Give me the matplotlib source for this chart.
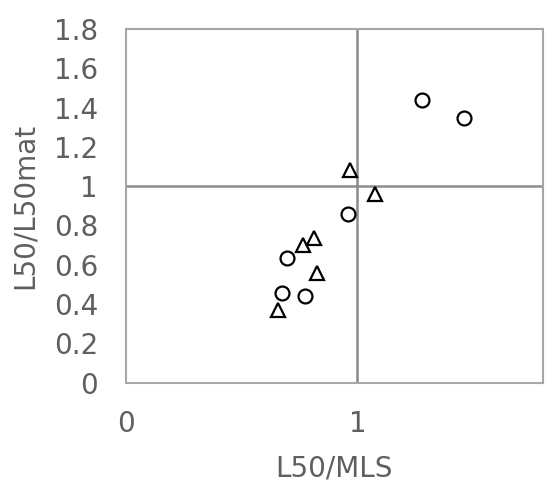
import matplotlib
matplotlib.use("Agg")
import matplotlib.pyplot as plt

# circles (series 1)
circle_x = [1.278, 1.459, 0.958, 0.695, 0.675, 0.773]
circle_y = [1.439, 1.349, 0.858, 0.636, 0.458, 0.443]

# triangles (series 2)
tri_x = [0.967, 1.078, 0.813, 0.764, 0.826, 0.658]
tri_y = [1.084, 0.960, 0.736, 0.699, 0.560, 0.370]

x_ticks = [0, 1]
y_ticks = [0, 0.2, 0.4, 0.6, 0.8, 1, 1.2, 1.4, 1.6, 1.8]
y_labels = ["0", "0.2", "0.4", "0.6", "0.8", "1", "1.2", "1.4", "1.6", "1.8"]

plt.rcParams['font.family'] = ['DejaVu Sans']
txt = '#5f5f5f'

fig = plt.figure(figsize=(5.48, 4.83), dpi=100)
ax = fig.add_axes([0.2294, 0.2077, 0.7609, 0.7323])

ax.axvline(1, color='#8c8c8c', lw=1.8, zorder=1)
ax.axhline(1, color='#8c8c8c', lw=1.8, zorder=1)

ax.plot(circle_x, circle_y, 'o', ms=10, mfc='none', mec='black', mew=1.6, zorder=3)
ax.plot(tri_x, tri_y, '^', ms=10.5, mfc='none', mec='black', mew=1.6, zorder=3)

ax.set_xlim(0, 1.8)
ax.set_ylim(0, 1.8)
ax.set_xticks(x_ticks)
ax.set_xticklabels(["0", "1"])
ax.set_yticks(y_ticks)
ax.set_yticklabels(y_labels)
ax.tick_params(length=0, labelsize=20, colors=txt)
ax.tick_params(axis='y', pad=20)
ax.tick_params(axis='x', pad=19.5)

for s in ax.spines.values():
    s.set_color('#a6a6a6')
    s.set_linewidth(1.5)

ax.set_xlabel('L50/MLS', fontsize=20, color=txt, labelpad=12)
ax.set_ylabel('L50/L50mat', fontsize=20, color=txt, labelpad=11)

fig.savefig('out.png', dpi=100)
